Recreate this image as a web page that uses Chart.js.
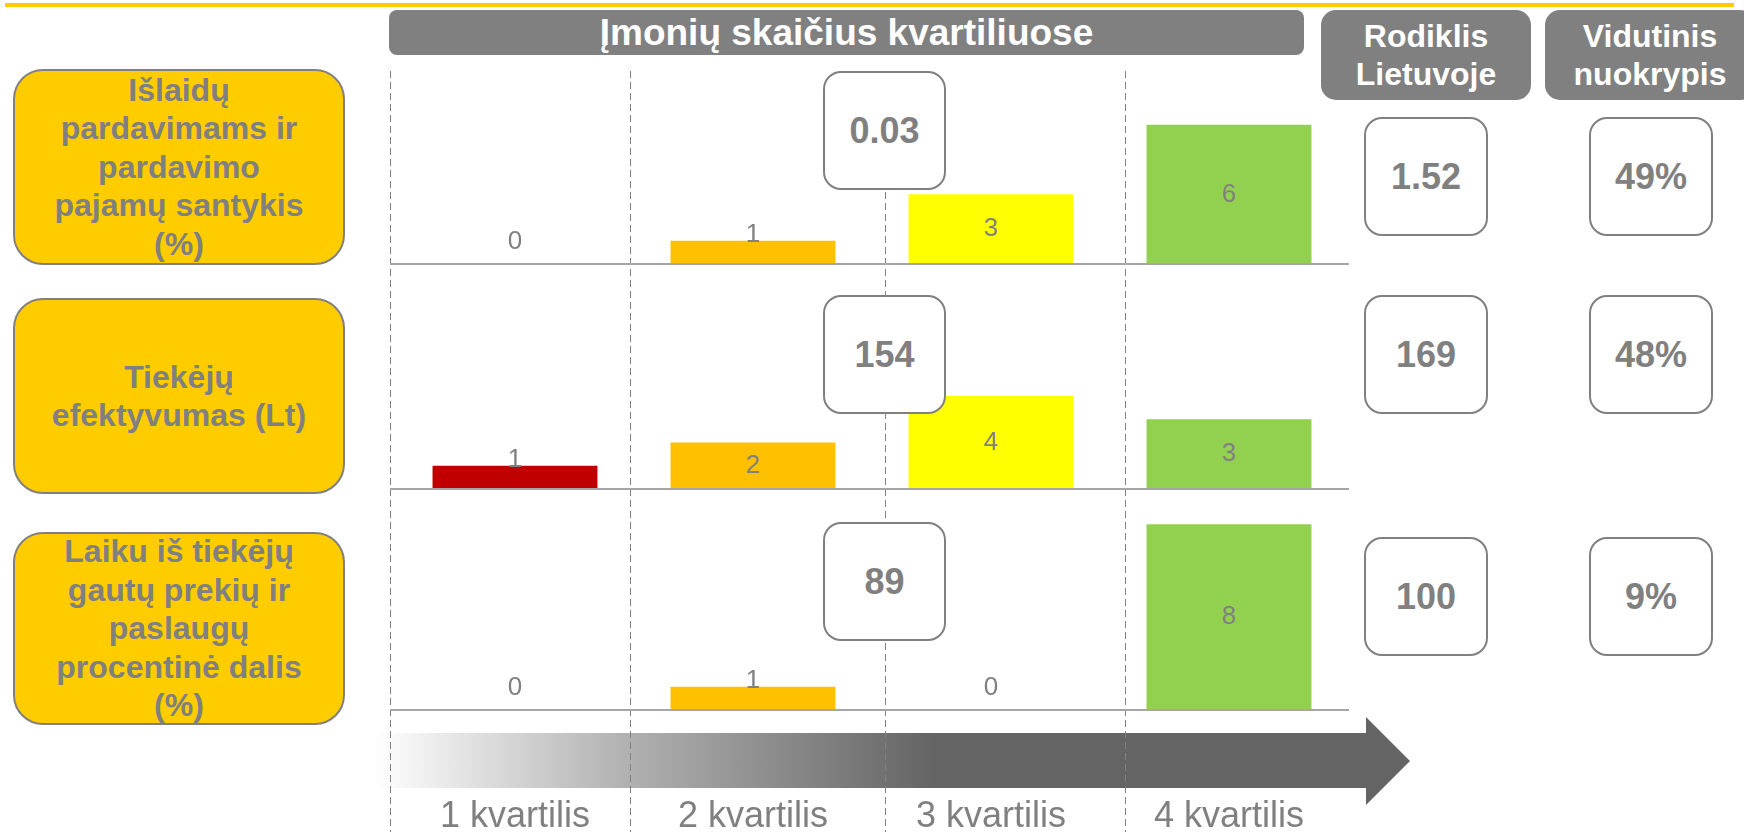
<!DOCTYPE html>
<html lang="lt">
<head>
<meta charset="utf-8">
<title>Įmonių skaičius kvartiliuose</title>
<script src="https://cdn.jsdelivr.net/npm/chart.js@4.4.1/dist/chart.umd.min.js"></script>
<style>
  html, body { margin: 0; padding: 0; background: #fff; }
  body {
    width: 1744px; height: 832px; position: relative; overflow: hidden;
    font-family: "Liberation Sans", Arial, sans-serif; color: #808080;
  }
  .abs { position: absolute; box-sizing: border-box; }
  .center { display: flex; align-items: center; justify-content: center; text-align: center; }
  .topline { left: 5px; top: 3px; width: 1729px; height: 4px; background: #FFCC00; }
  .head { background: #808080; color: #fff; font-weight: bold; }
  .rowlabel {
    background: #FFCC00; border: 2px solid #808080; border-radius: 30px;
    font-weight: bold; font-size: 32px; line-height: 38.5px;
  }
  .valbox {
    background: #fff; border: 2px solid #808080; border-radius: 18px;
    font-weight: bold; font-size: 36px;
  }
  .dash {
    top: 71px; width: 1px; height: 761px;
    background: repeating-linear-gradient(to bottom, #808080 0 7px, transparent 7px 11px);
  }
  .arrow {
    left: 375px; top: 717px; width: 1035px; height: 88px;
    background: linear-gradient(to right, rgba(100,100,100,0) 0px, rgba(100,100,100,0.5) 250px, #646464 560px);
    clip-path: polygon(0 16px, 991px 16px, 991px 0, 1035px 44px, 991px 88px, 991px 71px, 0 71px);
  }
  canvas { position: absolute; left: 0; }
</style>
</head>
<body>
<div class="abs topline"></div>
<div class="abs head center" style="left:389px;top:10px;width:915px;height:45px;border-radius:8px;font-size:37px;">Įmonių skaičius kvartiliuose</div>
<div class="abs head center" style="left:1321px;top:10px;width:210px;height:90px;border-radius:15px;font-size:32px;line-height:38px;">Rodiklis<br>Lietuvoje</div>
<div class="abs head center" style="left:1545px;top:10px;width:210px;height:90px;border-radius:15px;font-size:32px;line-height:38px;">Vidutinis<br>nuokrypis</div>
<div class="abs arrow"></div>
<div id="layer"></div>

<script>
// quartile categories
const quartiles = ['1 kvartilis', '2 kvartilis', '3 kvartilis', '4 kvartilis'];

// indicator names (one per row)
const indicatorLines = [
  ['Išlaidų', 'pardavimams ir', 'pardavimo', 'pajamų santykis', '(%)'],
  ['Tiekėjų', 'efektyvumas (Lt)'],
  ['Laiku iš tiekėjų', 'gautų prekių ir', 'paslaugų', 'procentinė dalis', '(%)']
];

// number of companies in each quartile
const expensesCounts = [0, 1, 3, 6];
const supplierCounts = [1, 2, 4, 3];
const onTimeCounts = [0, 1, 0, 8];

// boundary value between quartiles 2 and 3, Lithuania value, mean deviation
const medianValues = ['0.03', '154', '89'];
const lithuaniaValues = ['1.52', '169', '100'];
const deviationValues = ['49%', '48%', '9%'];

const rowCounts = [expensesCounts, supplierCounts, onTimeCounts];
const quartileColors = ['#C00000', '#FFC000', '#FFFF00', '#92D050'];

// layout of each row (page pixels)
const rows = [
  { label: [69, 196], canvasTop: 25, canvasH: 245, padBottom: 6, callout: 71, box: 117 },
  { label: [298, 196], canvasTop: 250, canvasH: 245, padBottom: 6, callout: 295, box: 295 },
  { label: [532, 193], canvasTop: 471, canvasH: 361, padBottom: 122, callout: 522, box: 537 }
];

const layer = document.getElementById('layer');
function addDiv(cls, style, html) {
  const d = document.createElement('div');
  d.className = cls;
  d.setAttribute('style', style);
  if (html !== undefined) d.innerHTML = html;
  layer.appendChild(d);
  return d;
}

// row labels
rows.forEach((r, i) => {
  addDiv('abs rowlabel center', `left:13px;top:${r.label[0]}px;width:332px;height:${r.label[1]}px;`,
    indicatorLines[i].join('<br>'));
});

// dashed separators
[390, 630, 885, 1125].forEach(x => addDiv('abs dash', `left:${x}px;`));

const rowDecor = {
  id: 'rowDecor',
  afterDatasetsDraw(chart, args, opts) {
    const { ctx, chartArea } = chart;
    ctx.save();
    ctx.strokeStyle = '#A6A6A6';
    ctx.lineWidth = 2;
    ctx.beginPath();
    ctx.moveTo(chartArea.left - 6, chartArea.bottom);
    ctx.lineTo(chartArea.right + 1, chartArea.bottom);
    ctx.stroke();

    // value labels: centred in tall bars, just above short ones
    const meta = chart.getDatasetMeta(0);
    const values = chart.data.datasets[0].data;
    ctx.font = '26px "Liberation Sans", Arial, sans-serif';
    ctx.fillStyle = '#808080';
    ctx.textAlign = 'center';
    ctx.textBaseline = 'middle';
    meta.data.forEach((bar, i) => {
      const h = bar.base - bar.y;
      const y = h > 40 ? (bar.base + bar.y) / 2 : Math.min(bar.y - 6, bar.base - 22);
      ctx.fillText(String(values[i]), bar.x, y);
    });

    if (opts.showQuartiles) {
      const xs = chart.scales.x;
      ctx.font = '36px "Liberation Sans", Arial, sans-serif';
      ctx.textBaseline = 'alphabetic';
      chart.data.labels.forEach((lab, i) => {
        ctx.fillText(lab, xs.getPixelForValue(i), chartArea.bottom + 117);
      });
    }
    ctx.restore();
  }
};

rows.forEach((r, i) => {
  const cv = document.createElement('canvas');
  cv.width = 1744;
  cv.height = r.canvasH;
  cv.style.top = r.canvasTop + 'px';
  layer.appendChild(cv);

  new Chart(cv, {
    type: 'bar',
    data: {
      labels: quartiles,
      datasets: [{
        data: rowCounts[i],
        backgroundColor: quartileColors,
        borderWidth: 0,
        barPercentage: 0.693,
        categoryPercentage: 1
      }]
    },
    options: {
      responsive: false,
      animation: false,
      layout: { padding: { left: 396, right: 396, top: 30, bottom: r.padBottom } },
      plugins: {
        legend: { display: false },
        tooltip: { enabled: false },
        rowDecor: { showQuartiles: i === 2 }
      },
      scales: {
        x: { display: false },
        y: { display: false, min: 0, max: 9 }
      }
    },
    plugins: [rowDecor]
  });
});

// value boxes
rows.forEach((r, i) => {
  addDiv('abs valbox center', `left:823px;top:${r.callout}px;width:123px;height:119px;`, medianValues[i]);
  addDiv('abs valbox center', `left:1364px;top:${r.box}px;width:124px;height:119px;`, lithuaniaValues[i]);
  addDiv('abs valbox center', `left:1589px;top:${r.box}px;width:124px;height:119px;`, deviationValues[i]);
});
</script>
</body>
</html>
